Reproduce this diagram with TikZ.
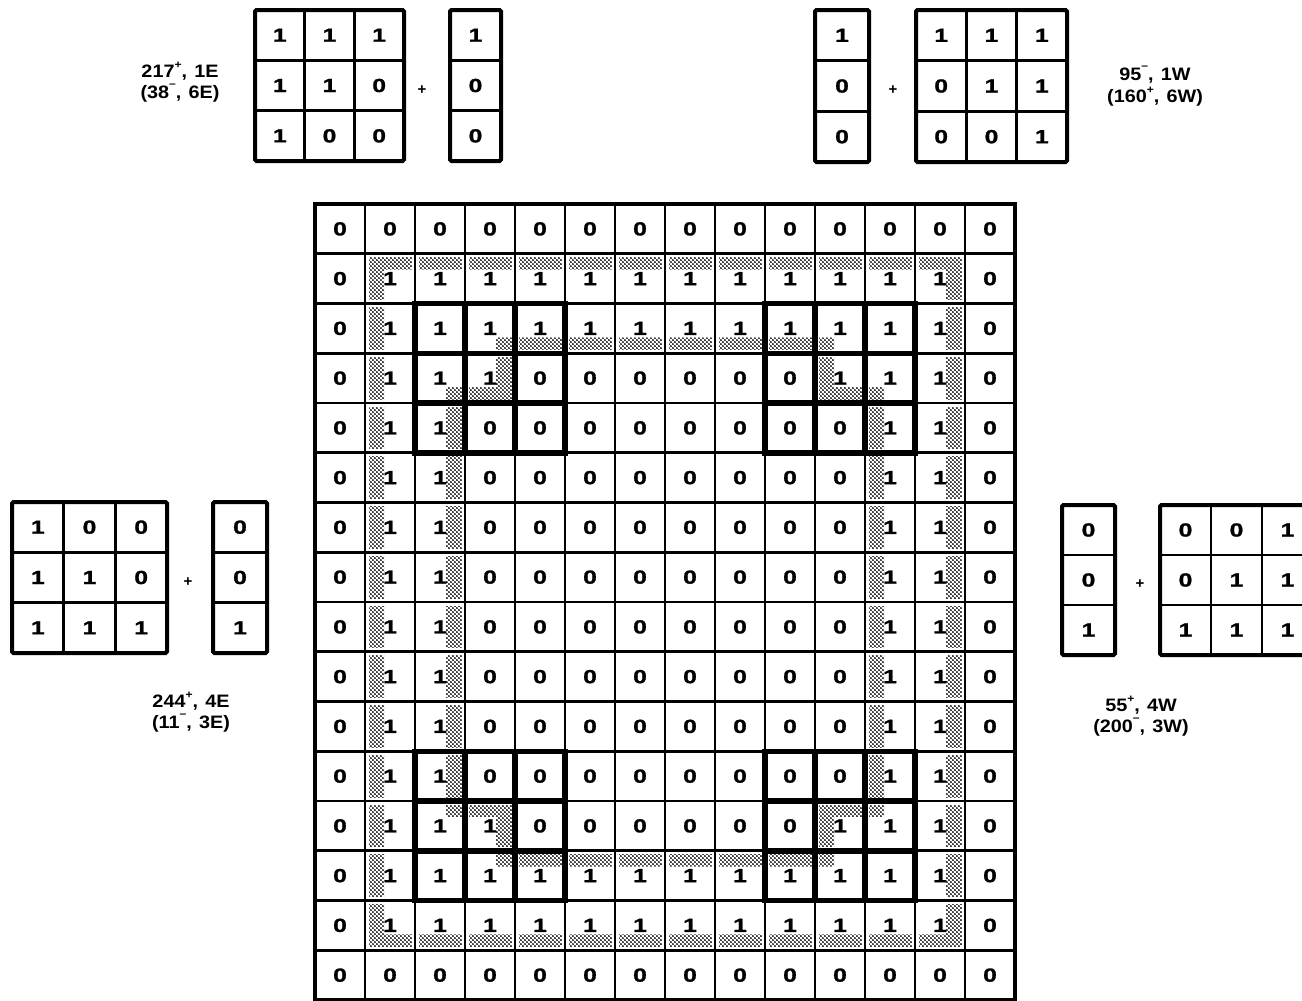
\documentclass[tikz,border=0pt]{standalone}
\usepackage{fontspec}
\setmainfont{Liberation Sans}
\newfontfamily\digfont[FakeStretch=1.3,FakeBold=1.2]{Liberation Sans}
\newfontfamily\labfont[FakeStretch=1.1]{Liberation Sans}
\usetikzlibrary{patterns}
\pgfdeclarepatternformonly{stip}{\pgfpointorigin}{\pgfqpoint{4.4pt}{4.4pt}}{\pgfqpoint{4.4pt}{4.4pt}}{%
  \pgfpathcircle{\pgfqpoint{1.1pt}{1.1pt}}{1.15pt}%
  \pgfpathcircle{\pgfqpoint{3.3pt}{3.3pt}}{1.15pt}%
  \pgfusepath{fill}}
\newcommand{\mysupp}{\raisebox{0.5em}{\fontsize{11}{11}\selectfont +}}
\newcommand{\mysupm}{\raisebox{0.6em}{\fontsize{11}{11}\selectfont –}}
\newcommand{\tbox}[7]{% #1 name #2 x0 #3 y0 #4 x1 #5 y1 #6 ncols #7 rows
  \foreach \rw [count=\ii from 0] in {#7} {%
    \foreach \vv [count=\jj from 0] in \rw {%
      \node[dig] (#1-\ii-\jj) at ({#2+(\jj+0.5)*(#4-#2)/#6},{#3+(\ii+0.5)*(#5-#3)/3}) {\vv};
    }%
  }%
  \foreach \ii in {1,2} {\draw[tin] (#2,{#3+\ii*(#5-#3)/3}) -- (#4,{#3+\ii*(#5-#3)/3});}%
  \ifnum#6>1 \foreach \jj in {1,2} {\draw[tin] ({#2+\jj*(#4-#2)/3},#3) -- ({#2+\jj*(#4-#2)/3},#5);}\fi
  \draw[tout] (#2,#3) rectangle (#4,#5);
}
\begin{document}
\begin{tikzpicture}[x=1pt,y=-1pt,
  dig/.style={font=\digfont\bfseries\fontsize{19}{19}\selectfont, inner sep=0pt},
  lab/.style={font=\labfont\bfseries\fontsize{18}{20}\selectfont, inner sep=0pt},
  plus/.style={font=\bfseries\fontsize{15}{15}\selectfont, inner sep=0pt},
  halo/.style={white, line width=7pt, line cap=rect},
  gline/.style={black, line width=2.8pt, line cap=rect},
  gout/.style={black, line width=3.2pt, line cap=rect},
  thickl/.style={black, line width=5.5pt, line cap=rect},
  tin/.style={black, line width=2.6pt},
  tout/.style={black, line width=4pt, rounded corners=1.5pt},
  band/.style={pattern=stip, pattern color=black, even odd rule}]
\useasboundingbox (0,0) rectangle (1302,1001);
\clip (0,0) rectangle (1302,1001);
\fill[white] (0,0) rectangle (1302,1001);

% ---------------- main grid ----------------
\begin{scope}[shift={(315,204)}, x=50pt, y=-49.75pt]
  \def\wx{0.38}
  \def\wy{0.32}
  % stippled bands
  \fill[band] (1,1) rectangle (13,15) ({1+\wx},{1+\wy}) rectangle ({13-\wx},{15-\wy});
  \fill[band]
    ({4-\wx},{3-\wy}) -- ({10+\wx},{3-\wy}) -- ({10+\wx},{4-\wy}) -- ({11+\wx},{4-\wy}) --
    ({11+\wx},{12+\wy}) -- ({10+\wx},{12+\wy}) -- ({10+\wx},{13+\wy}) -- ({4-\wx},{13+\wy}) --
    ({4-\wx},{12+\wy}) -- ({3-\wx},{12+\wy}) -- ({3-\wx},{4-\wy}) -- ({4-\wx},{4-\wy}) -- cycle
    (4,3) -- (10,3) -- (10,4) -- (11,4) -- (11,12) -- (10,12) -- (10,13) -- (4,13) --
    (4,12) -- (3,12) -- (3,4) -- (4,4) -- cycle;
  % white halos
  \foreach \k in {0,...,14} {\draw[halo] (\k,0) -- (\k,16);}
  \foreach \k in {0,...,16} {\draw[halo] (0,\k) -- (14,\k);}
  % grid lines
  \foreach \k in {1,...,13} {\draw[gline] (\k,0) -- (\k,16);}
  \foreach \k in {1,...,15} {\draw[gline] (0,\k) -- (14,\k);}
  \draw[gout] (0,0) rectangle (14,16);
  % thick windows
  \foreach \cc/\rr in {2/2, 9/2, 2/11, 9/11} {
    \foreach \k in {0,...,3} {
      \draw[thickl] (\cc+\k,\rr) -- (\cc+\k,\rr+3);
      \draw[thickl] (\cc,\rr+\k) -- (\cc+3,\rr+\k);
    }
  }
  % digits
  \foreach \row [count=\r from 0] in {
    {0,0,0,0,0,0,0,0,0,0,0,0,0,0},
    {0,1,1,1,1,1,1,1,1,1,1,1,1,0},
    {0,1,1,1,1,1,1,1,1,1,1,1,1,0},
    {0,1,1,1,0,0,0,0,0,0,1,1,1,0},
    {0,1,1,0,0,0,0,0,0,0,0,1,1,0},
    {0,1,1,0,0,0,0,0,0,0,0,1,1,0},
    {0,1,1,0,0,0,0,0,0,0,0,1,1,0},
    {0,1,1,0,0,0,0,0,0,0,0,1,1,0},
    {0,1,1,0,0,0,0,0,0,0,0,1,1,0},
    {0,1,1,0,0,0,0,0,0,0,0,1,1,0},
    {0,1,1,0,0,0,0,0,0,0,0,1,1,0},
    {0,1,1,0,0,0,0,0,0,0,0,1,1,0},
    {0,1,1,1,0,0,0,0,0,0,1,1,1,0},
    {0,1,1,1,1,1,1,1,1,1,1,1,1,0},
    {0,1,1,1,1,1,1,1,1,1,1,1,1,0},
    {0,0,0,0,0,0,0,0,0,0,0,0,0,0}} {
    \foreach \v [count=\c from 0] in \row {
      \node[dig] (g-\r-\c) at (\c+0.5,\r+0.5) {\v};
    }
  }
\end{scope}

% ---------------- templates ----------------
% top left
\tbox{tla}{255}{10}{404}{161}{3}{{1,1,1},{1,1,0},{1,0,0}}
\node[plus] (tlp) at (422,90) {+};
\tbox{tlb}{450}{10}{501}{161}{1}{{1},{0},{0}}
\node[lab] (tll1) at (180,71) {217\mysupp,\hspace{0.4em}1E};
\node[lab] (tll2) at (180,93) {(38\mysupm,\hspace{0.4em}6E)};

% top right
\tbox{trb}{815}{10}{869}{162}{1}{{1},{0},{0}}
\node[plus] (trp) at (893,90) {+};
\tbox{tra}{916}{10}{1067}{162}{3}{{1,1,1},{0,1,1},{0,0,1}}
\node[lab] (trl1) at (1155,75) {95\mysupm,\hspace{0.4em}1W};
\node[lab] (trl2) at (1155,97) {(160\mysupp,\hspace{0.4em}6W)};

% middle left
\tbox{mla}{12}{502}{167}{653}{3}{{1,0,0},{1,1,0},{1,1,1}}
\node[plus] (mlp) at (188,582) {+};
\tbox{mlb}{213}{502}{267}{653}{1}{{0},{0},{1}}
\node[lab] (mll1) at (191,701) {244\mysupp,\hspace{0.4em}4E};
\node[lab] (mll2) at (191,723) {(11\mysupm,\hspace{0.4em}3E)};

% middle right
\tbox{mrb}{1062}{505}{1115}{655}{1}{{0},{0},{1}}
\node[plus] (mrp) at (1140,584) {+};
\tbox{mra}{1160}{505}{1313}{655}{3}{{0,0,1},{0,1,1},{1,1,1}}
\node[lab] (mrl1) at (1141,705) {55\mysupp,\hspace{0.4em}4W};
\node[lab] (mrl2) at (1141,727) {(200\mysupm,\hspace{0.4em}3W)};
\end{tikzpicture}
\end{document}
